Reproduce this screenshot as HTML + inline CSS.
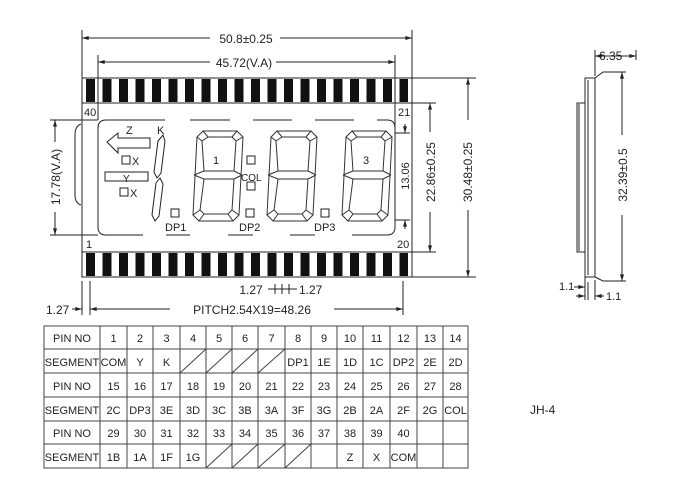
<!DOCTYPE html>
<html><head><meta charset="utf-8"><style>
body{margin:0;background:#fff}
svg text{font-family:"Liberation Sans",sans-serif;fill:#222}
</style></head><body>
<svg width="700" height="495" viewBox="0 0 700 495" xmlns="http://www.w3.org/2000/svg">
<defs>
<marker id="a" viewBox="0 0 10 6" refX="10" refY="3" markerWidth="8" markerHeight="4" orient="auto-start-reverse"><path d="M0,0L10,3L0,6z" fill="#222"/></marker>
<pattern id="pp" patternUnits="userSpaceOnUse" x="86" y="0" width="16.5" height="10"><rect x="0" y="0" width="9" height="10" fill="#111"/></pattern>
<g id="dig" fill="none" stroke="#333" stroke-width="1">
<path d="M8,0H42L48,6L44,84L38,90H4L-2,84L2,6Z"/>
<path d="M13,6H37L41,10L39,40H9L7,10Z"/>
<path d="M9,48H39L37,79L33,83H9L5,79Z"/>
<path d="M8,0L13,6M42,0L37,6M48,6L41,10M2,6L7,10M-1,44L9,40M47,44L39,40M-1,44L9,48M47,44L39,48M-2,84L5,79M44,84L37,79M4,90L9,83M38,90L33,83"/>
</g>
</defs>
<rect x="86" y="79" width="322" height="23" fill="url(#pp)"/>
<rect x="86" y="253" width="322" height="23" fill="url(#pp)"/>
<g stroke="#222" stroke-width="1" fill="none">
<rect x="82" y="78" width="330" height="199"/>
<line x1="82" y1="103" x2="412" y2="103"/>
<line x1="82" y1="252" x2="412" y2="252"/>
<path d="M98,227V128Q98,120 106,120H165"/>
<path d="M190,120H230M253,120H292M315,120H354"/>
<path d="M377,120H387Q395,120 395,128V227Q395,235 387,235H352"/>
<path d="M315,235H290M253,235H228M190,235H166"/>
<path d="M143,235H106Q98,235 98,227"/>
<path d="M81,124Q75,126 75,135V195Q75,203 81,205"/>
<line x1="82" y1="30" x2="82" y2="78"/><line x1="412" y1="30" x2="412" y2="78"/>
<line x1="82" y1="38" x2="412" y2="38" marker-start="url(#a)" marker-end="url(#a)"/>
<line x1="98" y1="55" x2="98" y2="120"/><line x1="395" y1="55" x2="395" y2="130"/>
<line x1="98" y1="62" x2="395" y2="62" marker-start="url(#a)" marker-end="url(#a)"/>
<line x1="50" y1="120" x2="98" y2="120"/><line x1="50" y1="235" x2="98" y2="235"/>
<line x1="55" y1="120" x2="55" y2="235" marker-start="url(#a)" marker-end="url(#a)"/>
<line x1="395" y1="133" x2="410" y2="133"/><line x1="395" y1="220" x2="410" y2="220"/>
<line x1="405" y1="124" x2="405" y2="133" marker-end="url(#a)"/><line x1="405" y1="229" x2="405" y2="220" marker-end="url(#a)"/>
<line x1="412" y1="103" x2="436" y2="103"/><line x1="412" y1="252" x2="436" y2="252"/>
<line x1="430" y1="103" x2="430" y2="252" marker-start="url(#a)" marker-end="url(#a)"/>
<line x1="412" y1="78" x2="476" y2="78"/><line x1="412" y1="277" x2="476" y2="277"/>
<line x1="468" y1="78" x2="468" y2="277" marker-start="url(#a)" marker-end="url(#a)"/>
<line x1="82" y1="281" x2="82" y2="315"/><line x1="90" y1="281" x2="90" y2="315"/><line x1="403" y1="281" x2="403" y2="315"/>
<line x1="90" y1="309" x2="403" y2="309" marker-start="url(#a)" marker-end="url(#a)"/>
<line x1="72" y1="309" x2="82" y2="309" marker-end="url(#a)"/>
<line x1="268" y1="289" x2="297" y2="289"/>
<line x1="275" y1="284" x2="275" y2="294"/><line x1="282" y1="284" x2="282" y2="294"/><line x1="289" y1="284" x2="289" y2="294"/>
<use href="#dig" x="195" y="131"/><use href="#dig" x="269" y="131"/><use href="#dig" x="344" y="131"/>
<path d="M158,141L163,135L165,141L161,173L157,178L154,172Z"/>
<path d="M156,183L160,178L163,184L159,216L155,221L152,215Z"/>
<path d="M107,142L118,133V138H150V148H118V153Z"/>
<rect x="122" y="156" width="8" height="8"/><rect x="120" y="188" width="8" height="8"/>
<rect x="105" y="172" width="43" height="9"/>
<rect x="247" y="156" width="8" height="8"/><rect x="247" y="182" width="8" height="8"/>
<rect x="171" y="209" width="8" height="8"/><rect x="246" y="209" width="8" height="8"/><rect x="321" y="209" width="8" height="8"/>
<rect x="585" y="78" width="10" height="199"/>
<line x1="588" y1="80" x2="588" y2="275"/>
<path d="M585,103H577V252H585"/><line x1="579" y1="104" x2="579" y2="251"/>
<path d="M595,78L603,72H626"/><path d="M595,277L603,281H626"/>
<line x1="622" y1="72" x2="622" y2="281" marker-start="url(#a)" marker-end="url(#a)"/>
<line x1="595" y1="50" x2="595" y2="76"/><line x1="636" y1="50" x2="636" y2="60"/>
<line x1="595" y1="56" x2="636" y2="56" marker-start="url(#a)" marker-end="url(#a)"/>
<line x1="585" y1="268" x2="585" y2="300"/><line x1="588" y1="282" x2="588" y2="300"/><line x1="595" y1="280" x2="595" y2="300"/>
<line x1="574" y1="287" x2="585" y2="287" marker-end="url(#a)"/>
<line x1="576" y1="296" x2="585" y2="296" marker-end="url(#a)"/><line x1="604" y1="296" x2="595" y2="296" marker-end="url(#a)"/>
</g>
<g fill="#fff" stroke="none">
<rect x="210" y="32" width="70" height="12"/><rect x="210" y="56" width="66" height="12"/>
<rect x="49" y="142" width="12" height="70"/><rect x="423" y="132" width="14" height="80"/>
<rect x="461" y="120" width="14" height="90"/><rect x="615" y="135" width="14" height="80"/>
<rect x="170" y="303" width="164" height="12"/>
</g>
<g font-size="12">
<text x="246" y="43" text-anchor="middle">50.8±0.25</text>
<text x="244" y="67" text-anchor="middle">45.72(V.A)</text>
<text x="252" y="314" text-anchor="middle">PITCH2.54X19=48.26</text>
<text x="251" y="294" text-anchor="middle">1.27</text><text x="299" y="294">1.27</text>
<text x="46" y="314">1.27</text>
<text x="60" y="177" text-anchor="middle" transform="rotate(-90 60 177)">17.78(V.A)</text>
<text x="435" y="172" text-anchor="middle" transform="rotate(-90 435 172)">22.86±0.25</text>
<text x="472" y="172" text-anchor="middle" transform="rotate(-90 472 172)">30.48±0.25</text>
<text x="409" y="176" text-anchor="middle" font-size="11" transform="rotate(-90 409 176)">13.06</text>
<text x="627" y="175" text-anchor="middle" transform="rotate(-90 627 175)">32.39±0.5</text>
<text x="599" y="60">6.35</text>
<text x="559" y="290" font-size="11">1.1</text><text x="606" y="300" font-size="11">1.1</text>
<text x="84" y="116" font-size="11">40</text><text x="398" y="116" font-size="11">21</text>
<text x="86" y="248" font-size="11">1</text><text x="397" y="248" font-size="11">20</text>
<text x="126" y="134" font-size="11">Z</text><text x="157" y="134" font-size="11">K</text>
<text x="132" y="165" font-size="11">X</text><text x="130" y="197" font-size="11">X</text>
<text x="123" y="182" font-size="10">Y</text>
<text x="241" y="181" font-size="10">COL</text>
<text x="165" y="231" font-size="11">DP1</text><text x="239" y="231" font-size="11">DP2</text><text x="314" y="231" font-size="11">DP3</text>
<text x="213" y="164" font-size="11">1</text><text x="363" y="164" font-size="11">3</text>
<text x="530" y="414">JH-4</text>
</g>
<g stroke="#444" stroke-width="1" fill="none">
<rect x="44" y="326" width="424" height="142"/>
<line x1="44" y1="349" x2="468" y2="349"/><line x1="44" y1="373" x2="468" y2="373"/>
<line x1="44" y1="397" x2="468" y2="397"/><line x1="44" y1="421" x2="468" y2="421"/>
<line x1="44" y1="444" x2="468" y2="444"/>
<path d="M100,326V468M127,326V468M153,326V468M180,326V468M206,326V468M232,326V468M258,326V468M285,326V468M311,326V468M337,326V468M363,326V468M390,326V468M417,326V468M443,326V468"/>
<path d="M180,373L206,349M206,373L232,349M232,373L258,349M258,373L285,349"/>
<path d="M206,468L232,444M232,468L258,444M258,468L285,444M285,468L311,444"/>
</g>
<g font-size="11" text-anchor="middle">
<text x="72" y="342">PIN NO</text><text x="72" y="366">SEGMENT</text>
<text x="72" y="390">PIN NO</text><text x="72" y="414">SEGMENT</text>
<text x="72" y="437">PIN NO</text><text x="72" y="461">SEGMENT</text>
<text x="113.5" y="342">1</text><text x="140" y="342">2</text><text x="166.5" y="342">3</text><text x="193" y="342">4</text><text x="219" y="342">5</text><text x="245" y="342">6</text><text x="271.5" y="342">7</text><text x="298" y="342">8</text><text x="324" y="342">9</text><text x="350" y="342">10</text><text x="376.5" y="342">11</text><text x="403.5" y="342">12</text><text x="430" y="342">13</text><text x="455.5" y="342">14</text>
<text x="113.5" y="366">COM</text><text x="140" y="366">Y</text><text x="166.5" y="366">K</text><text x="298" y="366">DP1</text><text x="324" y="366">1E</text><text x="350" y="366">1D</text><text x="376.5" y="366">1C</text><text x="403.5" y="366">DP2</text><text x="430" y="366">2E</text><text x="455.5" y="366">2D</text>
<text x="113.5" y="390">15</text><text x="140" y="390">16</text><text x="166.5" y="390">17</text><text x="193" y="390">18</text><text x="219" y="390">19</text><text x="245" y="390">20</text><text x="271.5" y="390">21</text><text x="298" y="390">22</text><text x="324" y="390">23</text><text x="350" y="390">24</text><text x="376.5" y="390">25</text><text x="403.5" y="390">26</text><text x="430" y="390">27</text><text x="455.5" y="390">28</text>
<text x="113.5" y="414">2C</text><text x="140" y="414">DP3</text><text x="166.5" y="414">3E</text><text x="193" y="414">3D</text><text x="219" y="414">3C</text><text x="245" y="414">3B</text><text x="271.5" y="414">3A</text><text x="298" y="414">3F</text><text x="324" y="414">3G</text><text x="350" y="414">2B</text><text x="376.5" y="414">2A</text><text x="403.5" y="414">2F</text><text x="430" y="414">2G</text><text x="455.5" y="414">COL</text>
<text x="113.5" y="437">29</text><text x="140" y="437">30</text><text x="166.5" y="437">31</text><text x="193" y="437">32</text><text x="219" y="437">33</text><text x="245" y="437">34</text><text x="271.5" y="437">35</text><text x="298" y="437">36</text><text x="324" y="437">37</text><text x="350" y="437">38</text><text x="376.5" y="437">39</text><text x="403.5" y="437">40</text>
<text x="113.5" y="461">1B</text><text x="140" y="461">1A</text><text x="166.5" y="461">1F</text><text x="193" y="461">1G</text><text x="350" y="461">Z</text><text x="376.5" y="461">X</text><text x="403.5" y="461">COM</text>
</g>
</svg>
</body></html>
